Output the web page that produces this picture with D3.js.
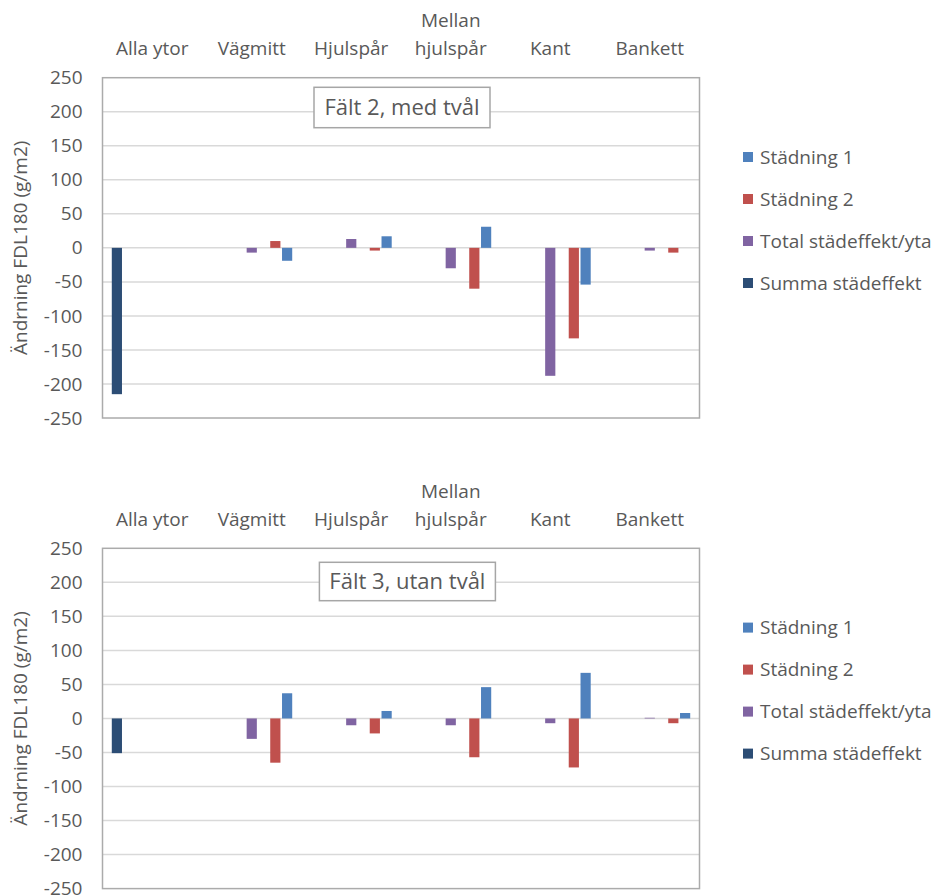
<!DOCTYPE html>
<html>
<head>
<meta charset="utf-8">
<script src="https://cdn.jsdelivr.net/npm/d3@7"></script>
<style>
  html, body { margin: 0; padding: 0; background: #fff; }
  svg { display: block; }
  text { font-family: "Open Sans", sans-serif; fill: #595959; }
</style>
</head>
<body>
<svg id="chart" width="934" height="895"></svg>
<script>
// ---- data ----
const categories = ["Alla ytor", "Vägmitt", "Hjulspår", "Mellan hjulspår", "Kant", "Bankett"];
const seriesNames = ["Städning 1", "Städning 2", "Total städeffekt/yta", "Summa städeffekt"];
const yTickValues = [250, 200, 150, 100, 50, 0, -50, -100, -150, -200, -250];

const falt2Title = "Fält 2, med tvål";
const falt2Stadning1 = [null, -19, 17, 31, -54, null];
const falt2Stadning2 = [null, 10, -4, -60, -133, -7];
const falt2Total     = [null, -7, 13, -30, -188, -4];
const falt2Summa     = [-215, null, null, null, null, null];

const falt3Title = "Fält 3, utan tvål";
const falt3Stadning1 = [null, 37, 11, 46, 67, 8];
const falt3Stadning2 = [null, -65, -22, -57, -72, -7];
const falt3Total     = [null, -30, -10, -10, -7, 1];
const falt3Summa     = [-51, null, null, null, null, null];

const yTitle = "Ändrning FDL180 (g/m2)";

// ---- styling ----
const colors = ["#4F81BD", "#C0504D", "#8064A2", "#2C4D75"];
const slots = [6, 5, 3, 0]; // cluster slot per series
const svg = d3.select("#chart");

function drawChart(offsetY, title, seriesValues, titleBox) {
  const g = svg.append("g").attr("transform", `translate(0,${offsetY})`);
  const left = 102.5, right = 699.5, top = 77.7, bottom = 418;

  const x = d3.scaleBand().domain(categories).range([left, right]);
  const sub = d3.scaleBand().domain(d3.range(7)).range([0, x.bandwidth()]).paddingOuter(0.72);
  const y = d3.scaleLinear().domain([-250, 250]).range([bottom, top]);

  // gridlines
  g.append("g").selectAll("line").data(yTickValues.filter(v => v !== 250 && v !== -250)).join("line")
    .attr("x1", left).attr("x2", right)
    .attr("y1", d => y(d)).attr("y2", d => y(d))
    .attr("stroke", "#d9d9d9").attr("stroke-width", 1.5);

  // plot border
  g.append("rect").attr("x", left).attr("y", top)
    .attr("width", right - left).attr("height", bottom - top)
    .attr("fill", "none").attr("stroke", "#ababab").attr("stroke-width", 1.5);

  // y axis labels
  const yAxis = d3.axisLeft(y).tickValues(yTickValues).tickSize(0).tickPadding(0)
    .tickFormat(d3.format("d"));
  const ya = g.append("g").attr("transform", `translate(${left - 20},0)`).call(yAxis);
  ya.select(".domain").remove();
  ya.selectAll("text").attr("font-size", 19).attr("font-family", "Open Sans").attr("fill", "#595959")
    .text(d => d < 0 ? "-" + Math.abs(d) : d);

  // category labels (top)
  const cat = g.append("g").selectAll("text").data(categories).join("text")
    .attr("x", d => x(d) + x.bandwidth() / 2)
    .attr("y", 55)
    .attr("text-anchor", "middle")
    .attr("font-size", 19);
  cat.each(function(d) {
    const words = d.split(" ");
    const el = d3.select(this);
    if (words.length === 2 && d === "Mellan hjulspår") {
      el.append("tspan").attr("x", x(d) + x.bandwidth() / 2).attr("dy", -28).text(words[0]);
      el.append("tspan").attr("x", x(d) + x.bandwidth() / 2).attr("dy", 28).text(words[1]);
    } else {
      el.text(d);
    }
  });

  // bars
  seriesValues.forEach((vals, si) => {
    g.append("g").selectAll("rect").data(vals.map((v, i) => ({v, c: categories[i]})).filter(d => d.v !== null))
      .join("rect")
      .attr("x", d => x(d.c) + sub(slots[si]) + 0.8)
      .attr("width", sub.bandwidth() - 1.6)
      .attr("y", d => y(Math.max(0, d.v)))
      .attr("height", d => Math.abs(y(d.v) - y(0)))
      .attr("fill", colors[si]);
  });

  // title box
  const tb = g.append("g");
  tb.append("rect").attr("x", titleBox[0]).attr("y", titleBox[1])
    .attr("width", titleBox[2]).attr("height", titleBox[3])
    .attr("fill", "#fff").attr("stroke", "#a6a6a6").attr("stroke-width", 1.5);
  tb.append("text").attr("x", titleBox[0] + titleBox[2] / 2).attr("y", titleBox[1] + titleBox[3] / 2)
    .attr("dy", "0.36em").attr("text-anchor", "middle").attr("font-size", 22).text(title);

  // y title
  g.append("text")
    .attr("transform", `translate(27,${(top + bottom) / 2}) rotate(-90)`)
    .attr("text-anchor", "middle").attr("font-size", 19).text(yTitle);

  // legend
  const leg = g.append("g").selectAll("g").data(seriesNames).join("g")
    .attr("transform", (d, i) => `translate(743,${157 + i * 42})`);
  leg.append("rect").attr("x", 0).attr("y", -5).attr("width", 10).attr("height", 10)
    .attr("fill", (d, i) => colors[i]);
  leg.append("text").attr("x", 17).attr("y", 0).attr("dy", "0.36em").attr("font-size", 19).text(d => d);
}

drawChart(0, falt2Title, [falt2Stadning1, falt2Stadning2, falt2Total, falt2Summa], [314, 87.3, 176, 40.4]);
drawChart(470.6, falt3Title, [falt3Stadning1, falt3Stadning2, falt3Total, falt3Summa], [319.4, 91.7, 176, 38.4]);
</script>
</body>
</html>
